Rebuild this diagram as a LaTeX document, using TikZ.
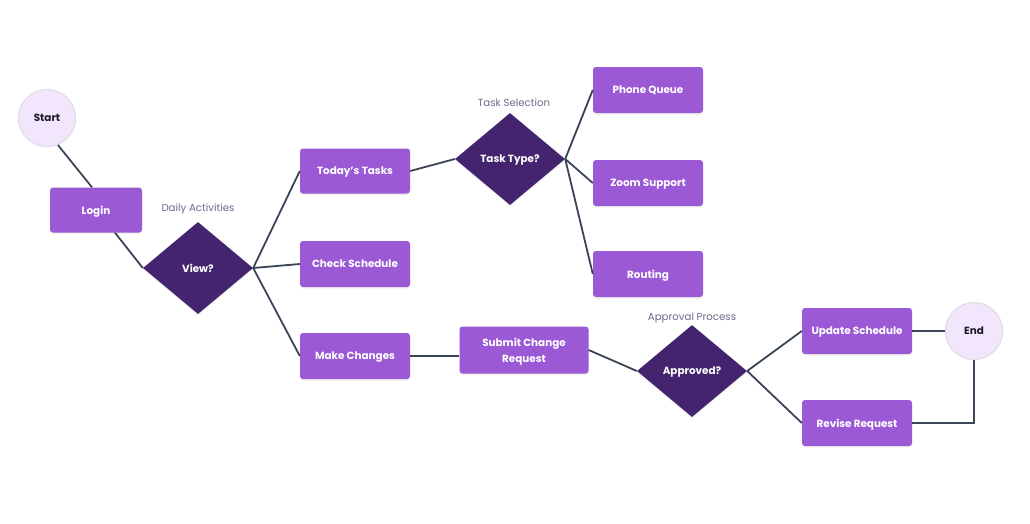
\documentclass[tikz,border=0pt]{standalone}
\usepackage{fontspec}
\setmainfont{Poppins}
\usetikzlibrary{shapes.geometric,shadows}
\definecolor{boxfill}{HTML}{9B59D6}
\definecolor{decfill}{HTML}{45246F}
\definecolor{circfill}{HTML}{F1E6FC}
\definecolor{circline}{HTML}{E2DCE8}
\definecolor{linec}{HTML}{3B4558}
\definecolor{labc}{HTML}{6E6A8C}
\definecolor{darktext}{HTML}{1C1C28}
\tikzset{
  procbox/.style={rectangle, rounded corners=3pt, fill=boxfill, text=white,
    font=\fontsize{10.4}{16}\selectfont\bfseries, minimum width=110pt, minimum height=46pt,
    inner sep=2pt, align=center, text depth=0pt,
    drop shadow={opacity=0.12, shadow xshift=0pt, shadow yshift=-1.5pt}},
  decbox/.style={diamond, fill=decfill, text=white, font=\fontsize{10.4}{12}\selectfont\bfseries,
    minimum width=110pt, minimum height=92pt, inner sep=0pt, text depth=0pt,
    drop shadow={opacity=0.12, shadow xshift=0pt, shadow yshift=-1.5pt}},
  termnode/.style={circle, fill=circfill, draw=circline, line width=1.2pt, text=darktext,
    font=\fontsize{10.4}{12}\selectfont\bfseries, minimum size=57pt, inner sep=0pt, text depth=0pt},
  lab/.style={text=labc, font=\fontsize{10.2}{12}\selectfont, inner sep=0pt, text depth=0pt},
  conn/.style={draw=linec, line width=1.8pt}
}
\begin{document}
\begin{tikzpicture}[x=1pt, y=-1pt]
\useasboundingbox[fill=white] (0,0) rectangle (1030,523);
% nodes
\node[termnode] (start) at (47,118) {Start};
\node[procbox, minimum width=92pt, minimum height=45pt] (login) at (96,210) {Login};
\node[decbox] (view) at (198,268) {View?};
\node[lab] (ldaily) at (198,208) {Daily Activities};
\node[procbox, minimum height=45pt] (today) at (355,171) {Today's Tasks};
\node[procbox] (check) at (355,264) {Check Schedule};
\node[procbox] (make) at (355,356) {Make Changes};
\node[decbox] (ttype) at (510,159) {Task Type?};
\node[lab] (ltask) at (514,103) {Task Selection};
\node[procbox] (phone) at (648,90) {Phone Queue};
\node[procbox] (zoom) at (648,183) {Zoom Support};
\node[procbox] (routing) at (648,274) {Routing};
\node[procbox, minimum width=129pt, minimum height=47pt] (submit) at (524,350) {Submit Change\\Request};
\node[decbox] (appr) at (692,371) {Approved?};
\node[lab] (lappr) at (692,317) {Approval Process};
\node[procbox] (update) at (857,331) {Update Schedule};
\node[procbox] (revise) at (857,423) {Revise Request};
\node[termnode] (end) at (974,331) {End};
% connectors
\draw[conn] (start.-68) -- ([xshift=-4pt]login.north);
\draw[conn] ([xshift=19pt]login.south) -- (view.west);
\draw[conn] (view.east) -- (today.west);
\draw[conn] (view.east) -- (check.west);
\draw[conn] (view.east) -- (make.west);
\draw[conn] (today.east) -- (ttype.west);
\draw[conn] (ttype.east) -- (phone.west);
\draw[conn] (ttype.east) -- (zoom.west);
\draw[conn] (ttype.east) -- (routing.west);
\draw[conn] (make.east) -- (submit.west |- make.east);
\draw[conn] (submit.east) -- (appr.west);
\draw[conn] (appr.east) -- (update.west);
\draw[conn] (appr.east) -- (revise.west);
\draw[conn] (update.east) -- (end.west);
\draw[conn] (revise.east) -| (end.south);
\end{tikzpicture}
\end{document}
